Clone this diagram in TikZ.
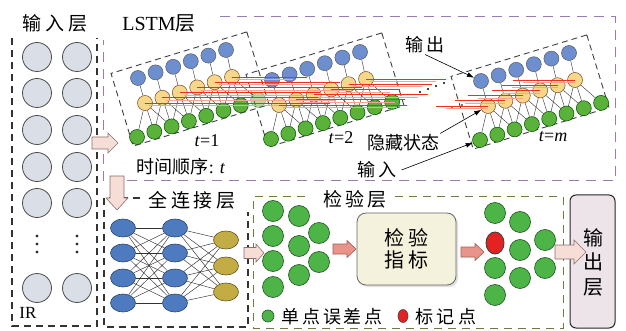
\documentclass[tikz,border=0pt]{standalone}
\usepackage{fontspec}
\setmainfont{Liberation Serif}
\newfontfamily\cjk{Noto Sans CJK SC}
\usetikzlibrary{shapes.geometric,arrows.meta,shadows}
\pgfdeclarelayer{bg}\pgfdeclarelayer{fg}
\pgfsetlayers{bg,main,fg}
\definecolor{inbg}{HTML}{D9DEE7}
\definecolor{lblue}{HTML}{6E8FCF}
\definecolor{lyel}{HTML}{F7D78A}
\definecolor{lgrn}{HTML}{5BB23A}
\definecolor{fcblue}{HTML}{4E7BC0}
\definecolor{fcolive}{HTML}{C3AC44}
\definecolor{cgrn}{HTML}{4DB548}
\definecolor{cred}{HTML}{E52222}
\definecolor{pinkf}{HTML}{F6DDD6}
\definecolor{pinkd}{HTML}{8C7070}
\definecolor{salf}{HTML}{E9948A}
\definecolor{sald}{HTML}{A45C50}
\definecolor{purp}{HTML}{9B7BB5}
\definecolor{olv}{HTML}{6F7B3E}
\definecolor{chkf}{HTML}{F4F2DC}
\definecolor{outf}{HTML}{ECE4E8}
\definecolor{redln}{HTML}{F0301C}
\newcommand\fsz[1]{\fontsize{#1}{#1}\selectfont}
\newcommand\rarrow[7]{%
  \draw[#7] (#1,{#3-#4}) -- ({#2-#6},{#3-#4}) -- ({#2-#6},{#3-#5}) -- (#2,#3)
    -- ({#2-#6},{#3+#5}) -- ({#2-#6},{#3+#4}) -- (#1,{#3+#4}) -- cycle;}
\newcommand\darrow[7]{%
  \draw[#7] ({#1-#4},#2) -- ({#1-#4},{#3-#6}) -- ({#1-#5},{#3-#6}) -- (#1,#3)
    -- ({#1+#5},{#3-#6}) -- ({#1+#4},{#3-#6}) -- ({#1+#4},#2) -- cycle;}
\newcommand\lstmblk[4]{%
  \foreach \i in {1,...,6}{
    \node[lb] (#1b\i) at ({138+17.6*(\i-1)+#2},{78-5.6*(\i-1)+#3}) {};
    \node[ly] (#1y\i) at ({145+17.4*(\i-1)+#2},{103-5.2*(\i-1)+#3}) {};
  }
  \foreach \i in {1,...,7}{
    \node[lg] (#1g\i) at ({137+17.3*(\i-1)+#2},{137-5.3*(\i-1)+#3}) {};
  }
  \node[lg,opacity=#4] (#1g8) at ({137+17.3*7+#2},{137-5.3*7+#3}) {};
  \begin{pgfonlayer}{bg}
  \foreach \i in {1,...,6}{
    \draw[conn] (#1b\i) -- (#1y\i);
    \foreach \k in {0,1,2}{
      \pgfmathtruncatemacro\j{\i+\k}
      \draw[conn] (#1y\i) -- (#1g\j);
    }
  }
  \end{pgfonlayer}
}
\begin{document}
\begin{tikzpicture}[x=1pt,y=-1pt,
  gin/.style={circle,minimum size=29pt,inner sep=0,fill=inbg,draw=black!70,line width=0.8pt},
  lb/.style={circle,minimum size=15pt,inner sep=0,fill=lblue,draw=black!65,line width=0.5pt},
  ly/.style={circle,minimum size=15pt,inner sep=0,fill=lyel,draw=brown!60!black,line width=0.5pt},
  lg/.style={circle,minimum size=15pt,inner sep=0,fill=lgrn,draw=green!30!black,line width=0.5pt},
  fcb/.style={ellipse,minimum width=25pt,minimum height=18pt,inner sep=0,fill=fcblue,draw=fcblue!55!black,line width=0.6pt},
  fco/.style={ellipse,minimum width=25pt,minimum height=18pt,inner sep=0,fill=fcolive,draw=fcolive!50!black,line width=0.6pt},
  cg/.style={circle,minimum size=21pt,inner sep=0,fill=cgrn,draw=cgrn!45!black,line width=0.6pt},
  cr/.style={ellipse,minimum width=18pt,minimum height=22pt,inner sep=0,fill=cred,draw=black!75,line width=0.9pt},
  lstmrect/.style={draw=black!75,dash pattern=on 6pt off 4pt,line width=0.9pt,minimum width=142pt,minimum height=76pt,inner sep=0,rotate=17},
  conn/.style={draw=black!75,line width=0.45pt},
  fcconn/.style={draw=black!80,line width=0.45pt},
  redl/.style={draw=redln,line width=0.75pt},
  redlt/.style={draw=redln!45,line width=0.7pt},
  annot/.style={draw=black,line width=0.6pt,-{Latex[length=7pt,width=5pt]}},
  pinkarr/.style={fill=pinkf,draw=pinkd,line width=0.6pt},
  salarr/.style={fill=salf,draw=sald,line width=0.6pt},
  blkdash/.style={draw=black!80,line width=1.1pt,dash pattern=on 7pt off 5pt},
  purpdash/.style={draw=purp,line width=1pt,dash pattern=on 10pt off 7pt},
  olvdash/.style={draw=olv,line width=1pt,dash pattern=on 8pt off 6pt},
  txt/.style={inner sep=1pt}]
\useasboundingbox (0,0) rectangle (626,331);
\begin{pgfonlayer}{bg}
\fill[white] (0,0) rectangle (626,331);
\end{pgfonlayer}

% ---------- frames ----------
\draw[blkdash] (12,38) -- (12,326) -- (97,326) -- (97,38);
\draw[purpdash] (220,17) -- (615,17) -- (615,181) -- (103,181) -- (103,40);
\draw[blkdash] (140,198) -- (104,198) -- (104,327) -- (248,327) -- (248,212);
\draw[olvdash] (305,197) -- (253,197) -- (253,328) -- (563,328) -- (563,197) -- (392,197);

% ---------- titles ----------
\node[txt] (tin1) at (55,23) {\fsz{19}\cjk\addfontfeature{LetterSpace=20}输入层};
\node[txt] (tlstm) at (159,23) {\fsz{20}LSTM{\cjk 层}};
\node[txt] (ttime) at (181,167) {\fsz{18}{\cjk 时间顺序}: \textit{t}};
\node[txt] (tfc) at (192,200) {\fsz{19}\cjk\addfontfeature{LetterSpace=18}全连接层};
\node[txt] (tchk) at (355,199) {\fsz{19}\cjk\addfontfeature{LetterSpace=18}检验层};
\node[txt] (tir) at (28,313) {\fsz{17}IR};

% ---------- input layer ----------
\foreach \r/\y in {1/57,2/93,3/130,4/167,5/203,6/288}{
  \node[gin] (ia\r) at (37,\y) {};
  \node[gin] (ib\r) at (77,\y) {};
}
\foreach \x in {37,77}{
  \foreach \y in {236,244,252}{
    \fill[black!80] (\x,\y) circle (1.6pt);
  }
}

% ---------- LSTM blocks ----------
\node[lstmrect] (box1) at (190,89) {};
\node[lstmrect] (box2) at (325,90) {};
\node[lstmrect] (boxm) at (530,92) {};
\lstmblk{a}{0}{0}{0.45}
\lstmblk{c}{134}{2}{1}
\lstmblk{m}{343}{3}{1}
\begin{pgfonlayer}{fg}
\foreach \i/\l in {1/185,2/188,3/140,4/165,5/125,6/75}{
  \draw[redl] (ay\i.center) -- ++(\l,0);
  \draw[redlt] ([yshift=-2.5pt,xshift=4pt]ay\i.center) -- ++(\l-18,0);
}
\foreach \i/\l in {1/128,2/109,3/114,4/69,5/83,6/80}{
  \draw[redl] (cy\i.center) -- ++(\l,0);
  \draw[redlt] ([yshift=-2.5pt,xshift=4pt]cy\i.center) -- ++(\l-14,0);
}
\foreach \i/\l in {1/52,2/50,3/55,4/48,5/56,6/62}{
  \draw[redl] (my\i.center) -- ++(-\l,0);
  \draw[redlt] ([yshift=-2.5pt]my\i.center) -- ++(-\l+10,0);
}
\end{pgfonlayer}
\foreach \x/\y in {420/92,428/89,436/86,444/83}{
  \fill[black] (\x,\y) circle (1.2pt);
}
\foreach \x/\y in {452/107,462/105}{
  \fill[black!70] (\x,\y) circle (1.1pt);
}
\node[txt] (t1) at (207,141) {\fsz{18}\textit{t}=1};
\node[txt] (t2) at (341,138) {\fsz{18}\textit{t}=2};
\node[txt] (tm) at (553,137) {\fsz{18}\textit{t}=\textit{m}};

% annotations
\node[txt] (tout) at (425,45) {\fsz{18}\cjk\addfontfeature{LetterSpace=20}输出};
\node[txt] (thid) at (403,143) {\fsz{18}\cjk 隐藏状态};
\node[txt] (tinp) at (377,170) {\fsz{18}\cjk\addfontfeature{LetterSpace=15}输入};
\draw[annot] (tout.south) -- (mb1);
\draw[annot] (thid.north east) -- (my1);
\draw[annot] ([xshift=4pt]tinp.east) -- (mg1);

% ---------- fully connected ----------
\foreach \r/\y in {1/228,2/253,3/278,4/303}{
  \node[fcb] (fa\r) at (123,\y) {};
  \node[fcb] (fb\r) at (175,\y) {};
}
\foreach \r/\y in {1/240,2/266,3/292}{
  \node[fco] (fc\r) at (226,\y) {};
}
\begin{pgfonlayer}{bg}
\foreach \i in {1,...,4}{
  \foreach \j in {1,...,4}{ \draw[fcconn] (fa\i) -- (fb\j); }
  \foreach \j in {1,...,3}{ \draw[fcconn] (fb\i) -- (fc\j); }
}
\end{pgfonlayer}

% ---------- check layer ----------
\foreach \n/\x/\y in {1/273/211,2/273/236,3/273/261,4/273/287,5/299/216,6/299/246,7/299/275,8/319/233,9/319/262}{
  \node[cg] (p\n) at (\x,\y) {};
}
\node[draw=black!60,fill=chkf,rounded corners=9pt,minimum width=99pt,minimum height=72pt,line width=0.8pt,
      drop shadow={opacity=0.25,shadow xshift=2pt,shadow yshift=-2pt},
      align=center,font={\fontsize{20}{22}\selectfont\cjk\addfontfeature{LetterSpace=20}}] (chk) at (406.5,249) {检验\\指标};
\foreach \n/\x/\y in {1/495/213,3/495/268,4/495/295,5/520/222,6/520/250,7/520/278,8/545/240,9/545/268}{
  \node[cg] (q\n) at (\x,\y) {};
}
\node[cr] (q2) at (495,243) {};

% legend
\node[cg,minimum size=12pt] (lgd) at (268,316) {};
\node[txt] (lgdt) at (332,317) {\fsz{18}\cjk\addfontfeature{LetterSpace=15}单点误差点};
\node[cr,minimum width=10pt,minimum height=13pt,line width=0.6pt] (lrd) at (403,316) {};
\node[txt] (lrdt) at (446,317) {\fsz{18}\cjk\addfontfeature{LetterSpace=22}标记点};

% ---------- output ----------
\node[draw=black!85,fill=outf,rounded corners=6pt,minimum width=45pt,minimum height=133pt,line width=1pt] (ob) at (592.5,261.5) {};
\node[align=center,inner sep=0,font={\fontsize{20}{24.5}\selectfont\cjk}] (obt) at (593,262) {输\\出\\层};

% ---------- block arrows ----------
\rarrow{92}{118}{143}{6}{10}{10}{pinkarr}
\darrow{117}{176}{210}{7}{11}{12}{pinkarr}
\rarrow{244}{264}{253}{5.5}{9}{8}{pinkarr}
\rarrow{333}{356}{249}{5}{8.5}{9}{salarr}
\rarrow{461}{484}{252}{5}{8.5}{9}{salarr}
\rarrow{555}{586}{252}{7}{12}{12}{pinkarr}
\end{tikzpicture}
\end{document}
